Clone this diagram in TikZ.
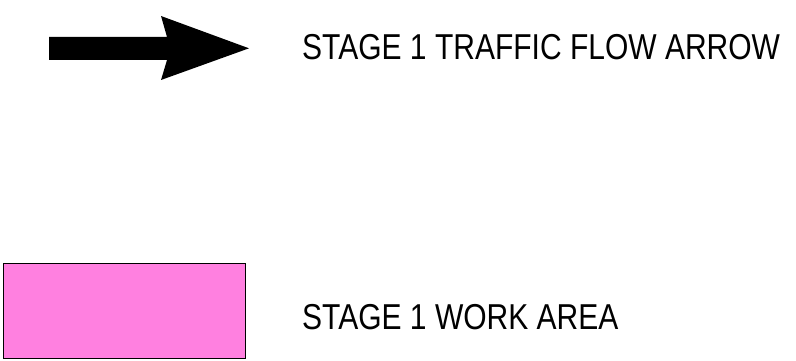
\documentclass[tikz,border=0pt]{standalone}
\usepackage{fontspec}
\setmainfont{Liberation Sans}
\usepackage{xcolor}
\definecolor{workpink}{HTML}{FF80E0}
\tikzset{
  legendtext/.style={anchor=base west, inner sep=0pt, font=\fontsize{30}{36}\selectfont}
}
\newcommand{\tallcaps}[1]{\scalebox{1}[1.2]{#1}}

\begin{document}
\begin{tikzpicture}[x=1pt, y=-1pt]
    % Page frame
    \useasboundingbox (0,0) rectangle (796,361);

    % Traffic flow arrow
    \fill[black] (49,37) -- (167,37) -- (161,16) -- (249,48.3)
        -- (161,80) -- (167,60) -- (49,60) -- cycle;
    \node[legendtext] (flowlabel) at (302,59.3) {\tallcaps{STAGE 1 TRAFFIC FLOW ARROW}};

    % Work area box
    \draw[fill=workpink, line width=1pt] (3,263.5) rectangle (245,358);
    \node[legendtext] (arealabel) at (302,329.3) {\tallcaps{STAGE 1 WORK AREA}};

\end{tikzpicture}
\end{document}
